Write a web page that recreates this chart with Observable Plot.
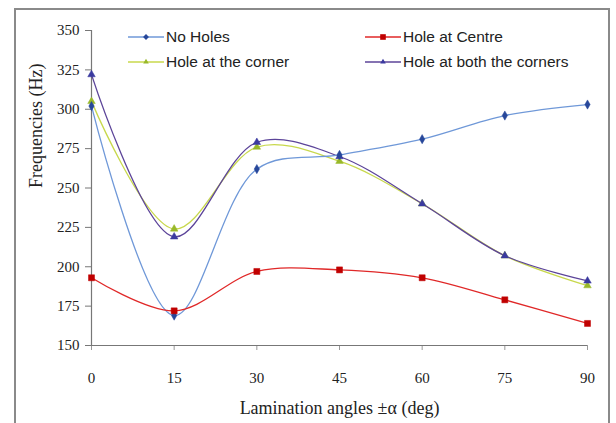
<!DOCTYPE html>
<html>
<head>
<meta charset="utf-8">
<script src="https://cdn.jsdelivr.net/npm/d3@7"></script>
<script src="https://cdn.jsdelivr.net/npm/@observablehq/plot@0.6"></script>
<style>
  html, body { margin: 0; padding: 0; background: #fff; }
  #wrap { position: relative; width: 616px; height: 423px; overflow: hidden; }
  #border { position: absolute; left: 14px; top: 8px; width: 596px; height: 430px; border: 2px solid #8a8a8a; box-sizing: border-box; pointer-events: none; }
  #legend { position: absolute; left: 0; top: 0; font-family: "Liberation Sans", Arial, sans-serif; font-size: 15.5px; color: #222; }
  .item { position: absolute; display: flex; align-items: center; white-space: nowrap; }
  .item svg { margin-right: 2px; }
</style>
</head>
<body>
<div id="wrap"><div id="chart"></div><div id="border"></div><div id="legend"></div></div>
<script>
const angles = [0, 15, 30, 45, 60, 75, 90];
const seriesNames = ["No Holes", "Hole at Centre", "Hole at the corner", "Hole at both the corners"];
const noHoles = [302, 169, 262, 271, 281, 296, 303];
const holeCentre = [193, 172, 197, 198, 193, 179, 164];
const holeCorner = [305, 224, 276, 267, 240, 207, 188];
const holeBoth = [322, 219, 279, 270, 240, 207, 191];
const yTicks = [150, 175, 200, 225, 250, 275, 300, 325, 350];
const xTicks = [0, 15, 30, 45, 60, 75, 90];

const lineColors = ["#6f98d8", "#e02828", "#c8d84c", "#5c4499"];
const markColors = ["#27479a", "#c00000", "#98b82a", "#3b3aa0"];
const symbols = ["diamond", "square", "triangle", "triangle"];
const sizes = [2.8, 3.4, 2.8, 2.8];

const allValues = [noHoles, holeCentre, holeCorner, holeBoth];
const rows = [];
allValues.forEach((vals, i) => vals.forEach((v, j) => rows.push({series: seriesNames[i], idx: i, angle: angles[j], freq: v})));

const marks = [];
[2, 3, 0, 1].forEach(i => {
  const d = rows.filter(r => r.idx === i);
  marks.push(Plot.line(d, {x: "angle", y: "freq", stroke: lineColors[i], strokeWidth: 1.3, curve: "catmull-rom"}));
});
[2, 3, 0, 1].forEach(i => {
  const d = rows.filter(r => r.idx === i);
  marks.push(Plot.dot(d, {x: "angle", y: "freq", fill: markColors[i], stroke: markColors[i], strokeWidth: 0.5, symbol: symbols[i], r: sizes[i]}));
});

const plot = Plot.plot({
  width: 616,
  height: 423,
  marginLeft: 91,
  marginRight: 29,
  marginTop: 30,
  marginBottom: 78,
  style: {fontFamily: "'Liberation Serif', 'Times New Roman', serif", fontSize: "14px", color: "#222", background: "transparent"},
  x: {domain: [0, 90], ticks: xTicks, label: null},
  y: {domain: [150, 350], ticks: yTicks, label: null},
  marks: [
    Plot.axisX({ticks: xTicks, tickSize: 5, tickPadding: 22, stroke: "#999", fontSize: 15}),
    Plot.axisY({ticks: yTicks, tickSize: 6, tickPadding: 6, stroke: "#777", fontSize: 15}),
    Plot.ruleY([150], {stroke: "#777", strokeWidth: 1.2}),
    Plot.ruleX([0], {stroke: "#777", strokeWidth: 1.2}),
    ...marks,
    Plot.text(["Lamination angles ±α (deg)"], {frameAnchor: "bottom", dy: 68, fontSize: 18, fill: "#222"}),
    Plot.text(["Frequencies (Hz)"], {frameAnchor: "left", rotate: -90, dx: -55, fontSize: 18, fill: "#222"})
  ]
});
document.getElementById("chart").appendChild(plot);

const legend = document.getElementById("legend");
const legendPos = [[128, 28], [365, 28], [128, 53], [365, 53]];
seriesNames.forEach((name, i) => {
  const el = document.createElement("div");
  el.className = "item";
  el.style.left = legendPos[i][0] + "px";
  el.style.top = legendPos[i][1] + "px";
  const s = d3.create("svg").attr("width", 36).attr("height", 18);
  s.append("line").attr("x1", 0).attr("x2", 36).attr("y1", 9).attr("y2", 9).attr("stroke", lineColors[i]).attr("stroke-width", 1.4);
  const sym = d3.symbol().type({diamond: d3.symbolDiamond2, square: d3.symbolSquare2, triangle: d3.symbolTriangle2}[symbols[i]]).size(i === 1 ? 40 : 22);
  s.append("path").attr("d", sym()).attr("transform", "translate(18,9)").attr("fill", markColors[i]);
  el.appendChild(s.node());
  const t = document.createElement("span");
  t.textContent = name;
  el.appendChild(t);
  legend.appendChild(el);
});
</script>
</body>
</html>
